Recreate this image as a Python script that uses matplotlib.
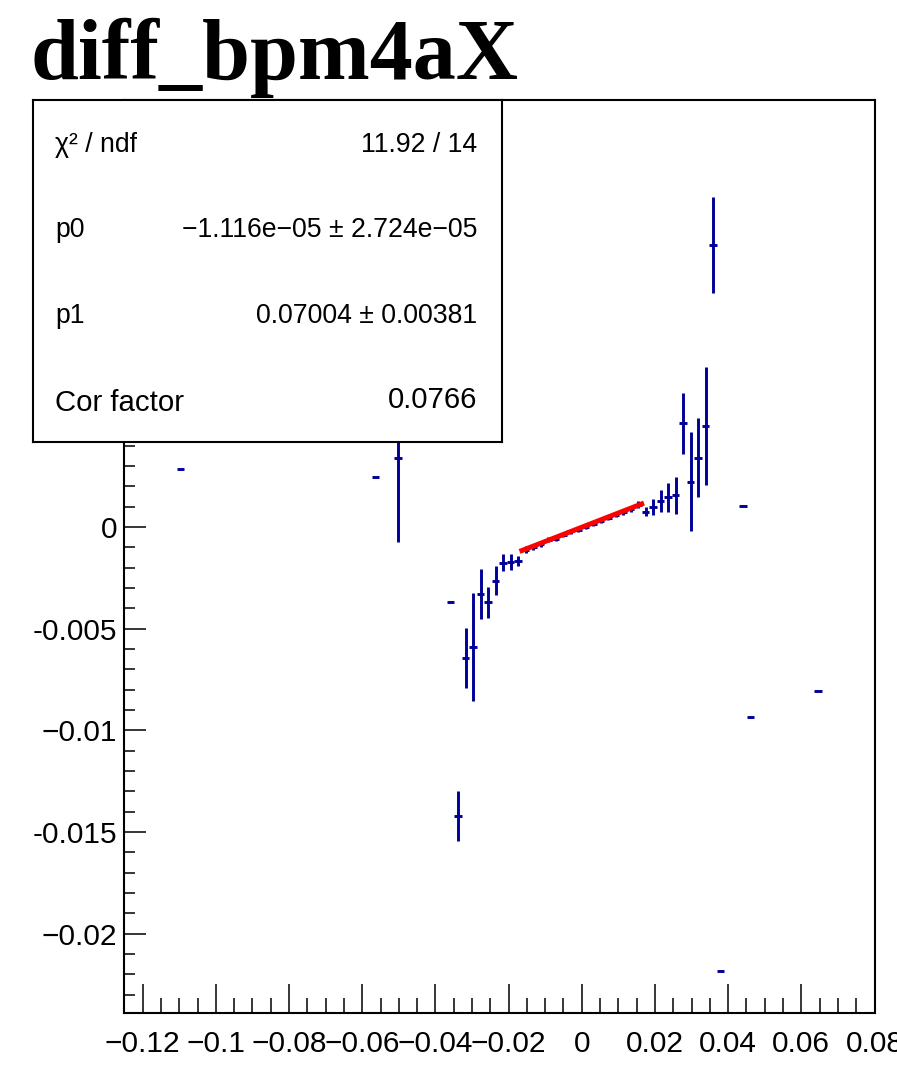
import numpy as np
import matplotlib
matplotlib.use("Agg")
import matplotlib.pyplot as plt
from matplotlib.ticker import MultipleLocator

# ---------------- data ----------------
TITLE = "diff_bpm4aX"
NBINS = 100
XMIN, XMAX = -0.125, 0.08
YMIN, YMAX = -0.0239, 0.0210

bin_index = [7, 33, 36, 43, 44, 45, 46, 47, 48, 49, 50, 51, 52,
             53, 54, 55, 56, 57, 58, 59, 60, 61, 62, 63, 64, 65, 66, 67, 68,
             69, 70, 71, 72, 73, 74, 75, 76, 77, 78, 79, 82, 83, 92]
bin_mean = [0.00285, 0.00246, 0.00339, -0.00370, -0.01419, -0.00646, -0.00592,
            -0.00329, -0.00370, -0.00264, -0.00175, -0.00172, -0.00167,
            -0.00112, -0.00098, -0.00084, -0.00062, -0.00060, -0.00040, -0.00022,
            -0.00014, 0.00002, 0.00016, 0.00028, 0.00046, 0.00060, 0.00072,
            0.00088, 0.00110,
            0.00075, 0.00100, 0.00129, 0.00146, 0.00156, 0.00510, 0.00223,
            0.00341, 0.00497, 0.01386, -0.02181, 0.00103, -0.00936, -0.00805]
bin_err = [0.0, 0.0, 0.00411, 0.0, 0.00123, 0.00147, 0.00266,
           0.00123, 0.00075, 0.00070, 0.00043, 0.00040, 0.00025,
           0.00018, 0.00015, 0.00012, 0.00012, 0.00010, 0.00010, 0.00010,
           0.00010, 0.00010, 0.00010, 0.00010, 0.00012, 0.00012, 0.00014,
           0.00016, 0.00018,
           0.00022, 0.00040, 0.00053, 0.00072, 0.00090, 0.00149, 0.00242,
           0.00195, 0.00291, 0.00235, 0.0, 0.0, 0.0, 0.0]

fit_p0 = -1.116e-05
fit_p1 = 0.07004
fit_range = (-0.017, 0.017)

xticks = [-0.12, -0.10, -0.08, -0.06, -0.04, -0.02, 0.0, 0.02, 0.04, 0.06, 0.08]
xtick_labels = ["\u22120.12", "\u22120.1", "\u22120.08", "\u22120.06", "\u22120.04",
                "\u22120.02", "0", "0.02", "0.04", "0.06", "0.08"]
yticks = [-0.02, -0.015, -0.01, -0.005, 0.0, 0.005, 0.01, 0.015, 0.02]
ytick_labels = ["\u22120.02", "-0.015", "\u22120.01", "-0.005", "0", "", "", "", ""]

stats_rows = [("\u03c7\u00b2 / ndf", "11.92 / 14"),
              ("p0", "\u22121.116e\u221205 \u00b1 2.724e\u221205"),
              ("p1", "0.07004 \u00b1 0.00381"),
              ("Cor factor", "0.0766")]

# ---------------- figure ----------------
W, H = 897, 1075
fig = plt.figure(figsize=(W / 100, H / 100), dpi=100)
fig.patch.set_facecolor("white")

ax = fig.add_axes([124.4 / W, 1 - 1013 / H, (874.5 - 124.4) / W, (1013 - 100) / H])
ax.set_xlim(XMIN, XMAX)
ax.set_ylim(YMIN, YMAX)

edges = np.linspace(XMIN, XMAX, NBINS + 1)
centers = 0.5 * (edges[:-1] + edges[1:])
bw = edges[1] - edges[0]
xs = centers[np.array(bin_index)]

ax.errorbar(xs, bin_mean, xerr=bw / 2, yerr=bin_err, fmt="none",
            ecolor="#000099", elinewidth=2.1, capsize=0, zorder=3)

fx = np.linspace(fit_range[0], fit_range[1], 200)
ax.plot(fx, fit_p0 + fit_p1 * fx, color="red", lw=3.6, zorder=4,
        solid_capstyle="butt")

for s in ax.spines.values():
    s.set_linewidth(1.5)
    s.set_color("black")

ax.set_xticks(xticks)
ax.set_xticklabels(xtick_labels)
ax.set_yticks(yticks)
ax.set_yticklabels(ytick_labels)
ax.xaxis.set_minor_locator(MultipleLocator(0.005))
ax.yaxis.set_minor_locator(MultipleLocator(0.001))
ax.tick_params(axis="x", which="major", direction="in", length=21, width=1.1,
               pad=12, labelsize=21.5, top=False)
ax.tick_params(axis="x", which="minor", direction="in", length=10.5, width=1.1,
               top=False)
ax.tick_params(axis="y", which="major", direction="in", length=16, width=1.1,
               pad=5, labelsize=21.5, right=False)
ax.tick_params(axis="y", which="minor", direction="in", length=8, width=1.1,
               right=False)
for lab in ax.get_xticklabels() + ax.get_yticklabels():
    lab.set_fontfamily(["Liberation Sans", "DejaVu Sans"])

# title
fig.text(30 / W, 1 - 79.5 / H, TITLE, fontsize=62, fontweight="bold",
         family=["Liberation Serif", "DejaVu Serif"], ha="left", va="baseline")

# stats box
box = fig.add_axes([33 / W, 1 - 441.7 / H, (501.5 - 33) / W, (441.7 - 100) / H])
box.set_zorder(10)
box.set_facecolor("white")
box.set_xticks([])
box.set_yticks([])
for s in box.spines.values():
    s.set_linewidth(1.5)
    s.set_color("black")

left_x = 55 / W
right_x = 477 / W
baselines_l = [152.3, 237.3, 322.7, 410.7]
baselines_r = [152.3, 237.3, 322.7, 408.3]
sizes = [19.2, 19.2, 19.2, 21.2]
for (lt, rt), bl, br, fs in zip(stats_rows, baselines_l, baselines_r, sizes):
    fig.text(left_x, 1 - bl / H, lt, fontsize=fs, ha="left", va="baseline",
             family=["Liberation Sans", "DejaVu Sans"], zorder=11)
    fig.text(right_x, 1 - br / H, rt, fontsize=fs, ha="right", va="baseline",
             family=["Liberation Sans", "DejaVu Sans"], zorder=11)

fig.savefig("out.png", dpi=100, facecolor="white")
